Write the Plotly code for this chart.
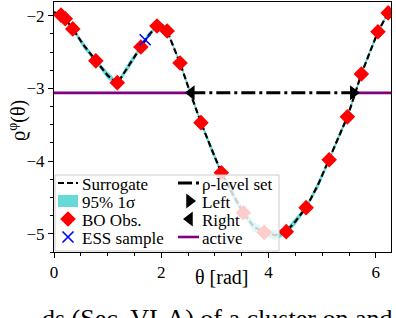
import plotly.graph_objects as go

# ---- data ----
obs_x = [0.13, 0.21, 0.35, 0.78, 1.18, 1.62, 1.92, 2.11, 2.35, 2.74, 3.12, 3.53,
         3.92, 4.33, 4.70, 5.13, 5.47, 5.73, 6.04, 6.23]
obs_y = [-1.99, -2.04, -2.18, -2.62, -2.92, -2.43, -2.14, -2.21, -2.65, -3.47, -4.16, -4.71,
         -4.98, -4.97, -4.64, -3.98, -3.39, -2.80, -2.22, -1.96]

sur_x = [0.00, 0.13, 0.21, 0.35, 0.55, 0.78, 1.00, 1.18, 1.40, 1.62, 1.75, 1.92, 2.02,
         2.11, 2.35, 2.55, 2.74, 2.93, 3.12, 3.33, 3.53, 3.72, 3.92, 4.12, 4.33, 4.50,
         4.70, 4.92, 5.13, 5.30, 5.47, 5.60, 5.73, 5.90, 6.04, 6.23, 6.283]
sur_y = [-1.95, -1.99, -2.04, -2.18, -2.40, -2.62, -2.82, -2.93, -2.68, -2.43, -2.28, -2.14, -2.13,
         -2.21, -2.65, -3.08, -3.47, -3.82, -4.16, -4.45, -4.71, -4.90, -4.98, -5.02, -4.97, -4.83,
         -4.64, -4.33, -3.98, -3.68, -3.39, -3.10, -2.80, -2.48, -2.22, -1.96, -1.92]
sur_hw = [0.02, 0.02, 0.02, 0.02, 0.05, 0.03, 0.05, 0.03, 0.05, 0.03, 0.04, 0.02, 0.03,
          0.02, 0.03, 0.04, 0.03, 0.05, 0.03, 0.06, 0.04, 0.07, 0.05, 0.07, 0.04, 0.05,
          0.03, 0.05, 0.03, 0.04, 0.03, 0.04, 0.03, 0.04, 0.03, 0.02, 0.02]

ess_x = [1.70]
ess_y = [-2.33]

rho = -3.06
left_x = 2.56
right_x = 5.58
x_max = 6.283

x_ticks = [0, 2, 4, 6]
y_ticks = [-5, -4, -3, -2]

legend_col1 = ["Surrogate", "95% 1σ", "BO Obs.", "ESS sample"]
legend_col2 = ["ρ-level set", "Left", "Right", "active"]

FONT = "Liberation Serif, Times New Roman, DejaVu Serif, serif"
CYAN = "#66d9d9"

W, H = 396, 318
L, R, T, B = 54, 5, 2, 66
pw, ph = W - L - R, H - T - B

# styles
SUR_LINE = dict(color="black", width=2.2, dash="6px,3px")
LVL_LINE = dict(color="black", width=3, dash="14px,4px,3px,4px")
ACT_LINE = dict(color="purple", width=2.6)
DIAMOND = dict(symbol="diamond", color="red", size=12, line=dict(width=0))
XMARK = dict(symbol="x-thin", color="blue", size=11, line=dict(width=1.6, color="blue"))
TRI_R = dict(symbol="triangle-right", color="black", size=13)
TRI_L = dict(symbol="triangle-left", color="black", size=13)

fig = go.Figure()

upper = [y + h for y, h in zip(sur_y, sur_hw)]
lower = [y - h for y, h in zip(sur_y, sur_hw)]
fig.add_trace(go.Scatter(
    x=sur_x + sur_x[::-1], y=upper + lower[::-1], fill="toself",
    fillcolor=CYAN, line=dict(width=0), mode="lines", name=legend_col1[1]))
fig.add_trace(go.Scatter(x=sur_x, y=sur_y, mode="lines", name=legend_col1[0], line=SUR_LINE))
fig.add_trace(go.Scatter(
    x=[0, left_x, None, right_x, x_max], y=[rho, rho, None, rho, rho],
    mode="lines", line=ACT_LINE, name=legend_col2[3]))
fig.add_trace(go.Scatter(x=[left_x, right_x], y=[rho, rho], mode="lines",
                         line=LVL_LINE, name=legend_col2[0]))
fig.add_trace(go.Scatter(x=obs_x, y=obs_y, mode="markers", name=legend_col1[2], marker=DIAMOND))
fig.add_trace(go.Scatter(x=ess_x, y=ess_y, mode="markers", name=legend_col1[3], marker=XMARK))
fig.add_trace(go.Scatter(x=[right_x], y=[rho], mode="markers", name=legend_col2[1], marker=TRI_R))
fig.add_trace(go.Scatter(x=[left_x], y=[rho], mode="markers", name=legend_col2[2], marker=TRI_L))

# ---- legend drawn on an overlay axis in pixel units ----
box_x = [55, 279, 279, 55, 55]
box_y = [175, 175, 251, 251, 175]
fig.add_trace(go.Scatter(x=box_x, y=box_y, xaxis="x2", yaxis="y2", mode="lines",
                         fill="toself", fillcolor="rgba(255,255,255,0.8)",
                         line=dict(color="#cccccc", width=1), hoverinfo="skip"))
rows = [183, 201, 219, 237]
c1a, c1b, c2a, c2b = 58, 78, 178, 199
fig.add_trace(go.Scatter(x=[c1a, c1b], y=[rows[0], rows[0]], xaxis="x2", yaxis="y2",
                         mode="lines", line=SUR_LINE))
fig.add_trace(go.Scatter(x=[c1a, c1b, c1b, c1a, c1a],
                         y=[rows[1] - 6, rows[1] - 6, rows[1] + 6, rows[1] + 6, rows[1] - 6],
                         xaxis="x2", yaxis="y2", mode="lines", fill="toself",
                         fillcolor=CYAN, line=dict(width=0)))
fig.add_trace(go.Scatter(x=[(c1a + c1b) / 2], y=[rows[2]], xaxis="x2", yaxis="y2",
                         mode="markers", marker=DIAMOND))
fig.add_trace(go.Scatter(x=[(c1a + c1b) / 2], y=[rows[3]], xaxis="x2", yaxis="y2",
                         mode="markers", marker=XMARK))
fig.add_trace(go.Scatter(x=[c2a, c2b], y=[rows[0], rows[0]], xaxis="x2", yaxis="y2",
                         mode="lines", line=LVL_LINE))
fig.add_trace(go.Scatter(x=[(c2a + c2b) / 2 + 1], y=[rows[1]], xaxis="x2", yaxis="y2",
                         mode="markers", marker=TRI_R))
fig.add_trace(go.Scatter(x=[(c2a + c2b) / 2 + 1], y=[rows[2]], xaxis="x2", yaxis="y2",
                         mode="markers", marker=TRI_L))
fig.add_trace(go.Scatter(x=[c2a, c2b], y=[rows[3], rows[3]], xaxis="x2", yaxis="y2",
                         mode="lines", line=ACT_LINE))

annotations = []
for i, lab in enumerate(legend_col1):
    annotations.append(dict(text=lab, xref="x2", yref="y2", x=80, y=rows[i] + 1,
                            xanchor="left", yanchor="middle", showarrow=False,
                            font=dict(family=FONT, size=17)))
for i, lab in enumerate(legend_col2):
    annotations.append(dict(text=lab, xref="x2", yref="y2", x=200, y=rows[i] + 1,
                            xanchor="left", yanchor="middle", showarrow=False,
                            font=dict(family=FONT, size=17)))


def px2paper_x(px):
    return (px - L) / pw


def py2paper_y(py):
    return (H - B - py) / ph


annotations += [
    dict(text="θ [rad]", xref="paper", yref="paper",
         x=px2paper_x(221), y=py2paper_y(277), xanchor="center", yanchor="middle",
         showarrow=False, font=dict(family=FONT, size=20)),
    dict(text="ϱ<sup>φ</sup>(θ)", xref="paper", yref="paper", textangle=-90,
         x=px2paper_x(17), y=py2paper_y(121), xanchor="center", yanchor="middle",
         showarrow=False, font=dict(family=FONT, size=20)),
    dict(text="ds (Sec. VI-A) of a cluster on and", xref="paper", yref="paper",
         x=px2paper_x(40), y=py2paper_y(302), xanchor="left", yanchor="top",
         showarrow=False, font=dict(family=FONT, size=26)),
]

fig.update_traces(showlegend=False, hoverinfo="skip")

fig.update_layout(
    width=W, height=H,
    margin=dict(l=L, r=R, t=T, b=B, autoexpand=False),
    paper_bgcolor="white", plot_bgcolor="white",
    font=dict(family=FONT, size=17, color="black"),
    showlegend=False,
    xaxis=dict(range=[0, x_max], tickvals=x_ticks, ticks="outside", ticklen=5,
               tickwidth=1, tickcolor="black", showline=True, linecolor="black",
               linewidth=1, mirror=True, showgrid=False, zeroline=False,
               tickfont=dict(family=FONT, size=17),
               minor=dict(dtick=0.5, ticks="outside", ticklen=3, tickcolor="black",
                          showgrid=False)),
    yaxis=dict(range=[-5.25, -1.81], tickvals=y_ticks, ticks="outside", ticklen=5,
               tickwidth=1, tickcolor="black", showline=True, linecolor="black",
               linewidth=1, mirror=True, showgrid=False, zeroline=False,
               tickfont=dict(family=FONT, size=17),
               minor=dict(dtick=0.25, tick0=-2, ticks="outside", ticklen=3,
                          tickcolor="black", showgrid=False)),
    xaxis2=dict(overlaying="x", anchor="y2", range=[L, W - R], visible=False,
                showgrid=False, zeroline=False),
    yaxis2=dict(overlaying="y", anchor="x2", range=[H - B, T], visible=False,
                showgrid=False, zeroline=False),
    annotations=annotations,
)

fig.write_html("out.html", config={"displayModeBar": False, "staticPlot": True},
               post_script="document.body.style.margin='0';")
